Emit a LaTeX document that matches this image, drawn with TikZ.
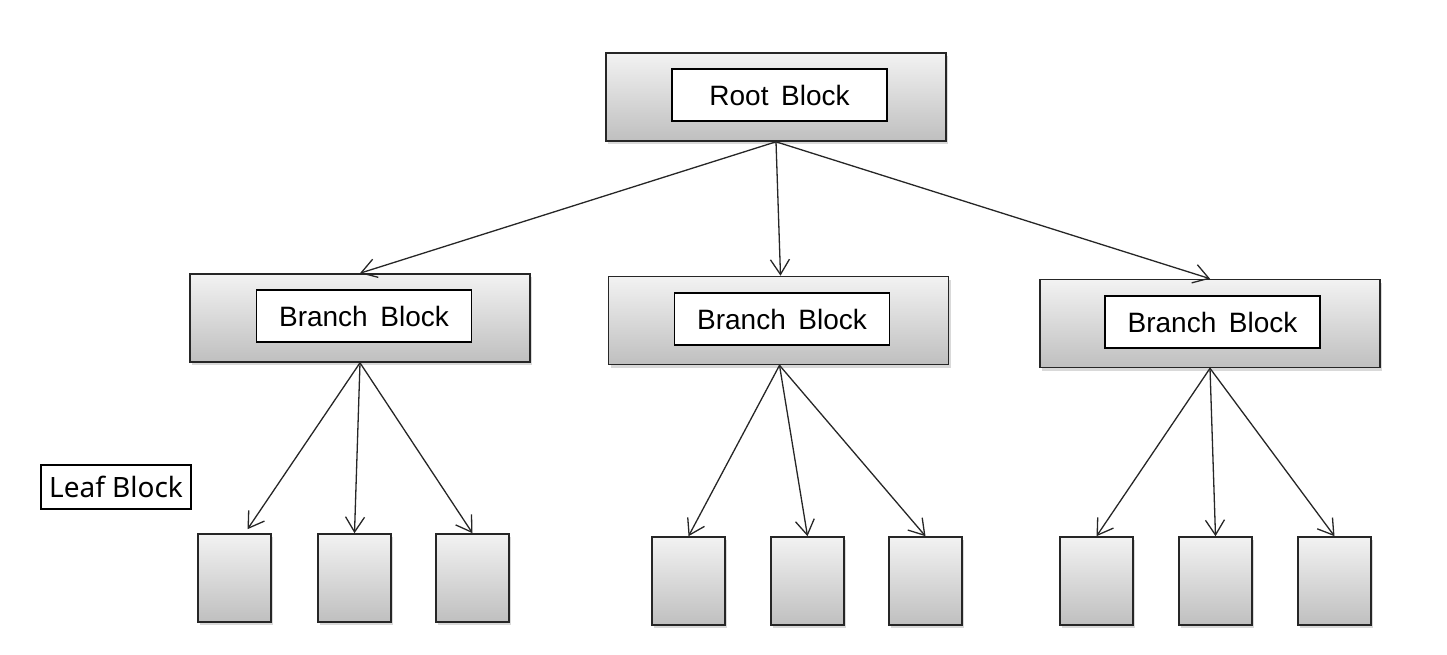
\documentclass[tikz,border=0pt]{standalone}
\usepackage{fontspec}
\setmainfont{Liberation Sans}
\newfontfamily\leaffont{Noto Sans}
\newcommand\blockfont{\fontsize{28}{30}\selectfont\spaceskip=0.45em\relax}
\usetikzlibrary{arrows.meta}
\usetikzlibrary{shadows}

\begin{document}
\begin{tikzpicture}[x = 1pt, y = -1pt]
	\tikzstyle{blockStyle}=[shape = rectangle, draw = black!85, line width = 1.6pt, top color = black!5, bottom color = black!25, drop shadow = {opacity = 0.3, shadow xshift = 2pt, shadow yshift = -3pt}, inner sep = 0pt]
	\tikzstyle{outerStyle}=[blockStyle, minimum width = 340pt, minimum height = 88pt]
	\tikzstyle{leafStyle}=[blockStyle, minimum width = 73pt, minimum height = 88pt]
	\tikzstyle{innerStyle}=[shape = rectangle, draw = black, line width = 1.4pt, fill = white, minimum width = 215pt, minimum height = 52pt, inner sep = 0pt, font = \blockfont]
	\tikzstyle{labelStyle}=[shape = rectangle, draw = black, line width = 1.4pt, fill = white, minimum width = 150pt, minimum height = 44pt, inner sep = 0pt, font = \leaffont\fontsize{28}{30}\selectfont]
	\tikzstyle{edgeStyle}=[line width = 1.3pt, draw = black!85, -{Straight Barb[length = 15pt, width = 19pt, line width = 1.3pt]}]
	\useasboundingbox (0, 0) rectangle (1447, 655);
	% root and branches
	\node[outerStyle] (root) at (776, 97) {};
	\node[innerStyle] (rootText) at (779.5, 95) {Root Block};
	\node[outerStyle] (br1) at (360, 318) {};
	\node[innerStyle] (br1Text) at (364, 316) {Branch Block};
	\node[outerStyle] (br2) at (778.5, 320.5) {};
	\node[innerStyle] (br2Text) at (782, 319) {Branch Block};
	\node[outerStyle] (br3) at (1210, 323.5) {};
	\node[innerStyle] (br3Text) at (1212.5, 322) {Branch Block};
	% leaves
	\node[labelStyle] (leafText) at (116, 487) {Leaf Block};
	\node[leafStyle] (lf11) at (234.5, 578) {};
	\node[leafStyle] (lf12) at (354.5, 578) {};
	\node[leafStyle] (lf13) at (472.5, 578) {};
	\node[leafStyle] (lf21) at (688.5, 581) {};
	\node[leafStyle] (lf22) at (807.5, 581) {};
	\node[leafStyle] (lf23) at (925.5, 581) {};
	\node[leafStyle] (lf31) at (1096.5, 581) {};
	\node[leafStyle] (lf32) at (1215.5, 581) {};
	\node[leafStyle] (lf33) at (1334.5, 581) {};
	% edges
	\draw[edgeStyle] (root.south) -- (br1.north);
	\draw[edgeStyle] (root.south) -- ([xshift = 2pt]br2.north);
	\draw[edgeStyle] (root.south) -- (br3.north);
	\draw[edgeStyle] (br1.south) -- ([xshift = 13pt, yshift = 4pt]lf11.north);
	\draw[edgeStyle] (br1.south) -- (lf12.north);
	\draw[edgeStyle] (br1.south) -- (lf13.north);
	\draw[edgeStyle] ([xshift = 1pt]br2.south) -- (lf21.north);
	\draw[edgeStyle] ([xshift = 1pt]br2.south) -- (lf22.north);
	\draw[edgeStyle] ([xshift = 1pt]br2.south) -- (lf23.north);
	\draw[edgeStyle] (br3.south) -- (lf31.north);
	\draw[edgeStyle] (br3.south) -- (lf32.north);
	\draw[edgeStyle] (br3.south) -- (lf33.north);
\end{tikzpicture}
\end{document}
